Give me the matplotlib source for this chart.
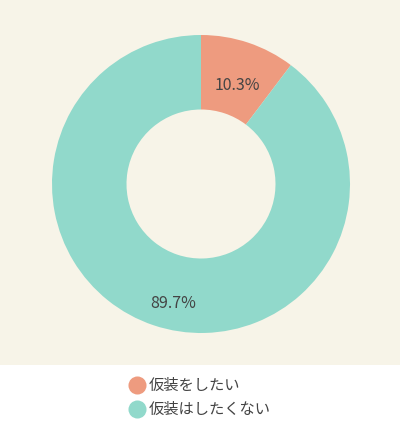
import matplotlib
matplotlib.use("Agg")
import matplotlib.pyplot as plt
from matplotlib.patches import Rectangle
from matplotlib.lines import Line2D

plt.rcParams['font.family'] = ['Noto Sans CJK JP', 'DejaVu Sans']

labels = ["仮装をしたい", "仮装はしたくない"]
values = [10.3, 89.7]
colors = ["#ee9b7f", "#91d9cb"]
bg = "#f7f4e8"
text_color = "#444444"

fig = plt.figure(figsize=(4.0, 4.3), dpi=100)
fig.patches.append(Rectangle((0, 65 / 430), 1, 1, transform=fig.transFigure,
                             facecolor=bg, edgecolor="none", zorder=-1))

ax = fig.add_axes([52 / 400, (430 - 333) / 430, 298 / 400, 298 / 430])
ax.set_facecolor("none")
wedges, texts, autotexts = ax.pie(
    values, colors=colors, startangle=90, counterclock=False,
    radius=1.0, wedgeprops=dict(width=0.5, edgecolor="none"),
    autopct="%.1f%%", pctdistance=0.70,
    textprops=dict(color=text_color, fontsize=11.5))
# small nudges so the labels sit where the original has them
x, y = autotexts[0].get_position()
autotexts[0].set_position((x + 0.02, y))
x, y = autotexts[1].get_position()
autotexts[1].set_position((x + 0.035, y - 0.135))
ax.set_xlim(-1, 1)
ax.set_ylim(-1, 1)
ax.set_aspect("equal")
ax.axis("off")

handles = [Line2D([], [], marker="o", linestyle="none", markersize=13,
                  markerfacecolor=c, markeredgecolor="none") for c in colors]
leg = fig.legend(handles, labels, loc="upper left",
                 bbox_to_anchor=(129 / 400, 1 - 377 / 430),
                 frameon=False, fontsize=11, handletextpad=0.3,
                 labelspacing=0.45, handlelength=1.0, borderaxespad=0,
                 borderpad=0)
for t in leg.get_texts():
    t.set_color(text_color)

fig.savefig("out.png", dpi=100, facecolor="white")
